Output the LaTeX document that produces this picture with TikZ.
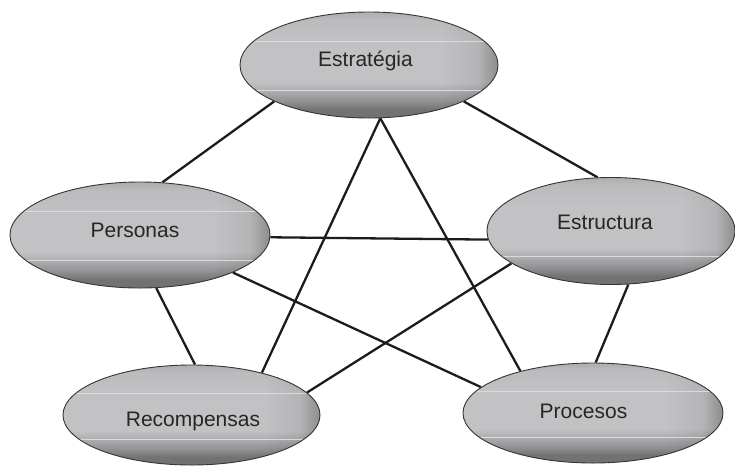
\documentclass[tikz,border=0pt]{standalone}
\usepackage{fontspec}
\setmainfont{Liberation Sans}
\usetikzlibrary{shapes.geometric,backgrounds,calc}
\definecolor{gA}{HTML}{3E3E3E}
\definecolor{gB}{HTML}{727274}
\definecolor{gC}{HTML}{A2A2A4}
\definecolor{gD}{HTML}{C2C2C4}
\definecolor{gE}{HTML}{B8B8BA}
\definecolor{gF}{HTML}{A2A2A4}
\definecolor{edge}{HTML}{363636}
\definecolor{hl}{HTML}{DADADC}
\definecolor{ink}{HTML}{262626}
\definecolor{wire}{HTML}{1C1C1C}
\pgfdeclareverticalshading{pillv}{100bp}{color(0bp)=(gA); color(25bp)=(gA); color(29bp)=(gA); color(33bp)=(gB); color(38bp)=(gC); color(42bp)=(gD); color(62bp)=(gD); color(71bp)=(gE); color(75bp)=(gF); color(100bp)=(gF)}
\pgfdeclarehorizontalshading{pillh}{100bp}{color(0bp)=(gD); color(25bp)=(gD); color(30bp)=(gD); color(64bp)=(gD); color(71bp)=(gC); color(75bp)=(gA); color(100bp)=(gA)}
\tikzset{
  pillbase/.style={ellipse, inner sep=0pt, draw=edge, line width=0.9pt, shading=pillv, shade},
  pill/.style={pillbase, path picture={
      \shade[shading=pillh, fill opacity=0.4] (path picture bounding box.south west) rectangle (path picture bounding box.north east);
      \draw[hl, line width=0.8pt] ($(path picture bounding box.south west)!0.26!(path picture bounding box.north west)$) -- ($(path picture bounding box.south east)!0.26!(path picture bounding box.north east)$);
      \draw[hl, line width=0.8pt] ($(path picture bounding box.south west)!0.72!(path picture bounding box.north west)$) -- ($(path picture bounding box.south east)!0.72!(path picture bounding box.north east)$);
    }},
  pillone/.style={pillbase, path picture={
      \shade[shading=pillh, fill opacity=0.4] (path picture bounding box.south west) rectangle (path picture bounding box.north east);
      \draw[hl, line width=0.8pt] ($(path picture bounding box.south west)!0.26!(path picture bounding box.north west)$) -- ($(path picture bounding box.south east)!0.26!(path picture bounding box.north east)$);
    }},
  lbl/.style={anchor=base, inner sep=0pt, text=ink, font=\fontsize{21}{25}\selectfont},
  link/.style={draw=wire, line width=2.3pt}
}
\begin{document}
\begin{tikzpicture}[x=1pt, y=-1pt]
\useasboundingbox (0,0) rectangle (735,466);
% ellipses
\node[pill, minimum width=258pt, minimum height=106pt] (est) at (369,65) {};
\node[pill, minimum width=260pt, minimum height=106pt] (per) at (140,235) {};
\node[pillone, minimum width=248pt, minimum height=107pt] (stu) at (611,231) {};
\node[pill, minimum width=257pt, minimum height=100pt] (rec) at (191.5,415) {};
\node[pill, minimum width=260pt, minimum height=100pt] (pro) at (593,413) {};
% labels
\node[lbl] (lest) at (365.5,66) {Estratégia};
\node[lbl] (lper) at (135,237) {Personas};
\node[lbl] (lstu) at (605,229) {Estructura};
\node[lbl] (lrec) at (193,426) {Recompensas};
\node[lbl] (lpro) at (583.5,418) {Procesos};
% connectors
\begin{pgfonlayer}{background}
\fill[white] (0,0) rectangle (735,466);
\draw[link] (est.201) -- (per.67);
\draw[link] (est.339.5) -- (stu.104);
\draw[link] (est.282.3) -- (rec.31.4);
\draw[link] (est.282.3) -- (pro.150.9);
\draw[link] (per.359) -- (stu.184);
\draw[link] (per.287.8) -- (rec.86.1);
\draw[link] (per.338.2) -- (pro.167);
\draw[link] (stu.198.6) -- (rec.11.3);
\draw[link] (stu.288.7) -- (pro.87.7);
\end{pgfonlayer}
\end{tikzpicture}
\end{document}
